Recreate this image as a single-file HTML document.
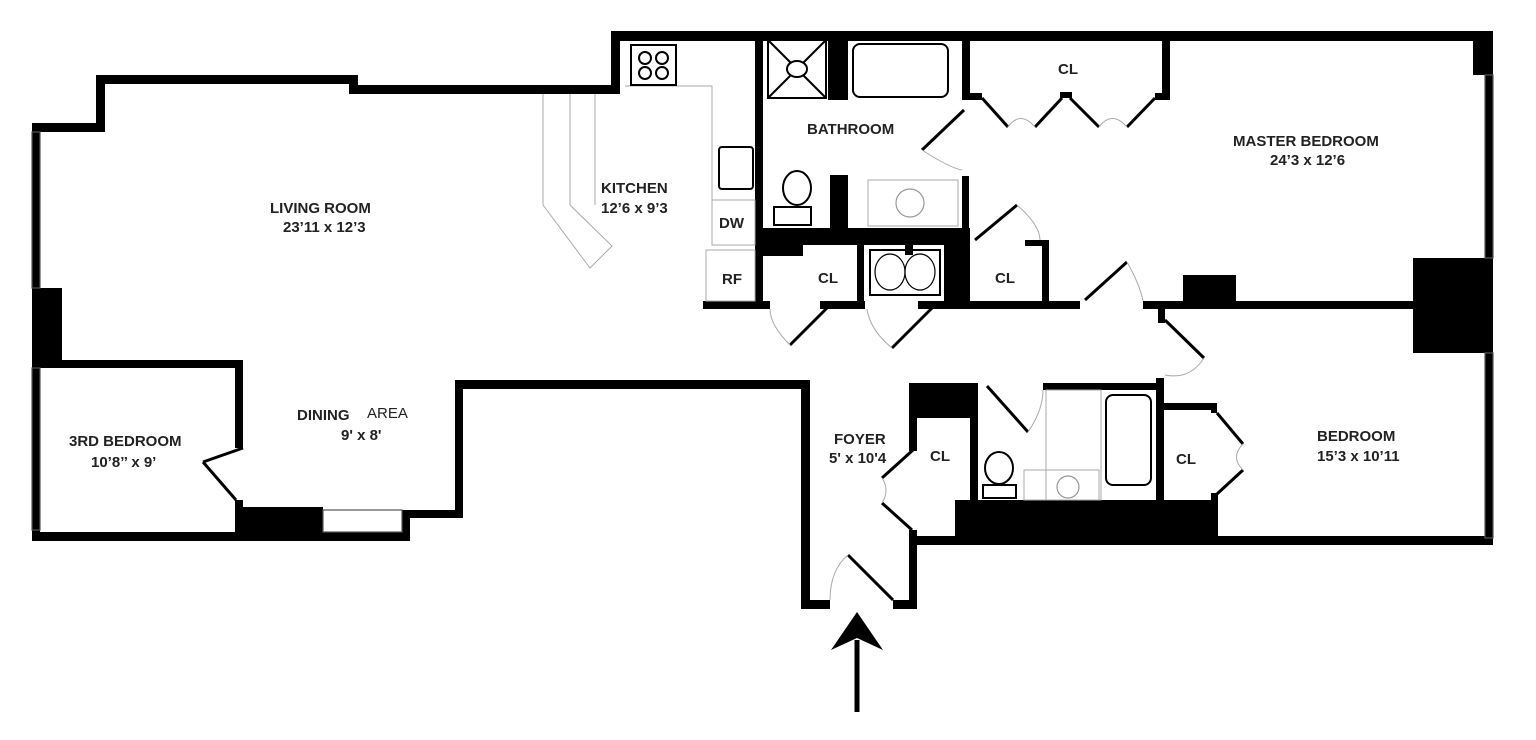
<!DOCTYPE html>
<html><head><style>
html,body{margin:0;padding:0;background:#fff;}
svg{display:block}
text{font-family:"Liberation Sans",Arial,sans-serif;font-weight:bold;font-size:15px;fill:#222;}
</style></head><body>
<svg width="1536" height="740" viewBox="0 0 1536 740" xmlns="http://www.w3.org/2000/svg">
<g fill="#000">
<!-- outer top -->
<rect x="32" y="123" width="72" height="9"/>
<rect x="96" y="76" width="9" height="56"/>
<rect x="96" y="75" width="262" height="9"/>
<rect x="349" y="75" width="9" height="18"/>
<rect x="349" y="85" width="270" height="9"/>
<rect x="611" y="31" width="9" height="63"/>
<rect x="611" y="31" width="882" height="10"/>
<!-- right -->
<rect x="1473" y="31" width="20" height="44"/>
<rect x="1413" y="258" width="80" height="95"/>
<rect x="1485" y="75" width="8" height="465"/>
<!-- left -->
<rect x="32" y="123" width="8" height="418"/>
<rect x="32" y="288" width="30" height="78"/>
<rect x="32" y="360" width="211" height="8"/>
<rect x="235" y="360" width="8" height="88"/>
<rect x="235" y="500" width="8" height="40"/>
<rect x="32" y="532" width="378" height="9"/>
<rect x="237" y="507" width="86" height="33"/>
<rect x="402" y="510" width="8" height="30"/>
<rect x="402" y="510" width="61" height="8"/>
<rect x="455" y="380" width="8" height="138"/>
<rect x="455" y="380" width="355" height="9"/>
<!-- foyer -->
<rect x="801" y="380" width="9" height="229"/>
<rect x="801" y="600" width="29" height="9"/>
<rect x="893" y="600" width="24" height="9"/>
<rect x="909" y="530" width="8" height="79"/>
<rect x="909" y="383" width="8" height="68"/>
<rect x="909" y="383" width="68" height="35"/>
<rect x="970" y="383" width="8" height="155"/>
<rect x="955" y="500" width="263" height="38"/>
<rect x="909" y="536" width="584" height="9"/>
<!-- bath2 -->
<rect x="1043" y="383" width="120" height="7"/>
<rect x="1156" y="378" width="8" height="124"/>
<rect x="1156" y="403" width="61" height="7"/>
<rect x="1211" y="403" width="6" height="10"/>
<rect x="1211" y="493" width="7" height="12"/>
<!-- kitchen/bath -->
<rect x="755" y="38" width="8" height="270"/>
<rect x="828" y="38" width="20" height="62"/>
<rect x="962" y="38" width="8" height="62"/>
<rect x="962" y="176" width="7" height="132"/>
<rect x="763" y="228" width="207" height="17"/>
<rect x="763" y="240" width="40" height="16"/>
<rect x="830" y="175" width="18" height="55"/>
<rect x="857" y="245" width="7" height="62"/>
<rect x="944" y="245" width="26" height="62"/>
<rect x="905" y="245" width="8" height="10"/>
<rect x="1042" y="240" width="7" height="68"/>
<rect x="1025" y="240" width="24" height="6"/>
<rect x="1162" y="38" width="8" height="62"/>
<rect x="1155" y="93" width="15" height="7"/>
<rect x="970" y="93" width="12" height="7"/>
<rect x="1060" y="92" width="12" height="6"/>
<!-- corridor wall -->
<rect x="703" y="301" width="67" height="8"/>
<rect x="820" y="301" width="45" height="8"/>
<rect x="918" y="301" width="162" height="8"/>
<rect x="1143" y="301" width="350" height="8"/>
<rect x="1183" y="275" width="53" height="30"/>
<rect x="1158" y="305" width="7" height="18"/>
</g>
<!-- windows -->
<g fill="none" stroke="#555" stroke-width="1.2">
<rect x="32" y="132" width="8" height="156"/>
<rect x="32" y="368" width="8" height="162"/>
<rect x="1485" y="75" width="8" height="183"/>
<rect x="1485" y="353" width="8" height="185"/>
<rect x="323" y="510" width="79" height="22"/>
</g>
<!-- doors -->
<g stroke="#000" stroke-width="3" fill="none">
<line x1="243" y1="448" x2="203" y2="462"/>
<line x1="203" y1="462" x2="236" y2="500"/>
<line x1="982" y1="98" x2="1008" y2="127"/>
<line x1="1035" y1="127" x2="1062" y2="98"/>
<line x1="1070" y1="98" x2="1099" y2="127"/>
<line x1="1127" y1="127" x2="1155" y2="98"/>
<line x1="964" y1="110" x2="922" y2="150"/>
<line x1="975" y1="240" x2="1017" y2="205"/>
<line x1="1085" y1="300" x2="1127" y2="262"/>
<line x1="1165" y1="320" x2="1204" y2="358"/>
<line x1="830" y1="305" x2="790" y2="345"/>
<line x1="935" y1="305" x2="892" y2="348"/>
<line x1="913" y1="450" x2="882" y2="478"/>
<line x1="882" y1="503" x2="912" y2="530"/>
<line x1="987" y1="386" x2="1028" y2="432"/>
<line x1="1217" y1="413" x2="1243" y2="444"/>
<line x1="1243" y1="470" x2="1217" y2="494"/>
<line x1="848" y1="555" x2="893" y2="600"/>
</g>
<g stroke="#aaa" stroke-width="1" fill="none">
<path d="M790 345 Q770 325 770 309"/><path d="M892 348 Q870 330 867 309"/>
<path d="M922 150 Q950 168 962 170"/><path d="M1017 205 Q1040 225 1040 240"/>
<path d="M1127 262 Q1140 285 1143 301"/><path d="M1204 358 Q1190 380 1165 375"/>
<path d="M830 600 Q830 570 848 555"/><path d="M882 478 Q890 490 882 503"/>
<path d="M1028 432 Q1043 410 1043 390"/>
<path d="M1008 127 Q1020 110 1035 127"/><path d="M1099 127 Q1112 110 1127 127"/>
<path d="M1243 444 Q1230 457 1243 470"/>
<!-- kitchen counters -->
<polyline points="543,94 543,205 590,268 612,246 570,205 570,94"/>
<polyline points="595,94 595,205"/>
<polyline points="625,86 712,86 712,245 755,245"/>
<rect x="712" y="200" width="43" height="45"/>
<rect x="706" y="250" width="49" height="51"/>
<rect x="868" y="180" width="90" height="46"/>
<rect x="1046" y="390" width="55" height="110"/>
<rect x="1024" y="470" width="75" height="30"/>
</g>
<g stroke="#000" stroke-width="2" fill="none">
<rect x="631" y="45" width="45" height="40"/>
<circle cx="645" cy="58" r="6"/><circle cx="662" cy="58" r="6"/><circle cx="645" cy="73" r="6"/><circle cx="662" cy="73" r="6"/>
<rect x="719" y="147" width="34" height="42" rx="3"/>
<rect x="768" y="40" width="58" height="58"/>
<line x1="768" y1="40" x2="826" y2="98"/><line x1="826" y1="40" x2="768" y2="98"/>
<ellipse cx="797" cy="69" rx="10" ry="8" fill="#fff"/>
<rect x="853" y="44" width="95" height="53" rx="7"/>
<ellipse cx="797" cy="188" rx="14" ry="17"/>
<rect x="774" y="207" width="37" height="18"/>
<rect x="870" y="250" width="70" height="45"/>
<ellipse cx="890" cy="272" rx="15" ry="18" stroke-width="1.2"/><ellipse cx="920" cy="272" rx="15" ry="18" stroke-width="1.2"/>
<rect x="1106" y="395" width="45" height="90" rx="7"/>
<ellipse cx="999" cy="468" rx="14" ry="16"/>
<rect x="983" y="485" width="33" height="13"/>
</g>
<g stroke="#999" stroke-width="1.2" fill="none">
<circle cx="910" cy="203" r="14"/><circle cx="1068" cy="487" r="11"/>
</g>
<!-- arrow -->
<line x1="857" y1="712" x2="857" y2="640" stroke="#000" stroke-width="5"/>
<polygon points="857,612 831,650 857,638 883,650" fill="#000"/>
<!-- labels -->
<text x="270" y="213">LIVING ROOM</text>
<text x="283" y="232">23’11 x 12’3</text>
<text x="601" y="193">KITCHEN</text>
<text x="601" y="213">12’6 x 9’3</text>
<text x="719" y="228" font-size="14">DW</text>
<text x="722" y="284" font-size="14">RF</text>
<text x="807" y="134">BATHROOM</text>
<text x="1058" y="74">CL</text>
<text x="1233" y="146">MASTER BEDROOM</text>
<text x="1270" y="165">24’3 x 12’6</text>
<text x="818" y="283">CL</text>
<text x="995" y="283">CL</text>
<text x="297" y="420">DINING</text><text x="367" y="418" style="font-weight:normal">AREA</text>
<text x="341" y="440">9' x 8'</text>
<text x="69" y="446" font-size="14">3RD BEDROOM</text>
<text x="91" y="467" font-size="14">10’8’’ x 9’</text>
<text x="834" y="444" font-size="14">FOYER</text>
<text x="829" y="463" font-size="13">5' x 10'4</text>
<text x="930" y="461">CL</text>
<text x="1176" y="464">CL</text>
<text x="1317" y="441">BEDROOM</text>
<text x="1317" y="461">15’3 x 10’11</text>
</svg>
</body></html>
